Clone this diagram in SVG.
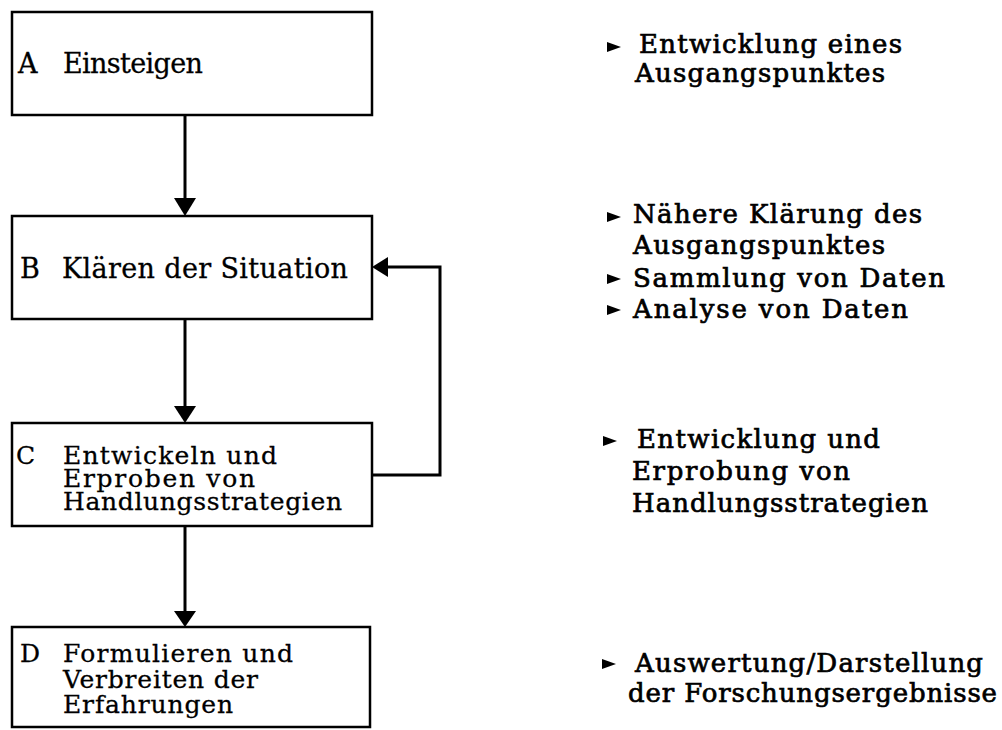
<svg xmlns="http://www.w3.org/2000/svg" xmlns:xlink="http://www.w3.org/1999/xlink" width="1002" height="730" viewBox="0 0 1002 730">
<style>
.box{fill:#fff;stroke:#000;stroke-width:2.5}
.lt{font-family:"DejaVu Serif",serif;font-size:27px;fill:#000;stroke:#000;stroke-width:0.3}
.ls{font-size:25px}
.rt{font-family:"DejaVu Serif",serif;font-size:26px;fill:#000;stroke:#000;stroke-width:0.7}
.ln{fill:none;stroke:#000;stroke-width:3}
</style>
<defs>
<path id="bul" d="M0,-5 L14,0 L0,5 Z" fill="#000"/>
</defs>
<rect width="1002" height="730" fill="#fff"/>
<g id="connectors">
<line class="ln" x1="185" y1="115" x2="185" y2="200"/>
<path d="M174,198 L196,198 L185,216 Z" fill="#000"/>
<line class="ln" x1="185" y1="319" x2="185" y2="408"/>
<path d="M174,406 L196,406 L185,423 Z" fill="#000"/>
<line class="ln" x1="185" y1="526" x2="185" y2="612"/>
<path d="M174,611 L196,611 L185,627 Z" fill="#000"/>
<polyline class="ln" points="372,475 440,475 440,267 386,267"/>
<path d="M388,257 L388,277 L372,267 Z" fill="#000"/>
</g>
<g id="nodeA">
<rect class="box" x="12" y="12" width="360" height="103"/>
<text class="lt" x="18" y="73">A</text>
<text class="lt" x="63" y="73" textLength="140" lengthAdjust="spacing">Einsteigen</text>
</g>
<g id="nodeB">
<rect class="box" x="12" y="216" width="360" height="103"/>
<text class="lt" x="20" y="278">B</text>
<text class="lt" x="62" y="278" textLength="286" lengthAdjust="spacing">Klären der Situation</text>
</g>
<g id="nodeC">
<rect class="box" x="12" y="423" width="360" height="103"/>
<text class="lt ls" x="16" y="464">C</text>
<text class="lt ls" x="63" y="464" textLength="214" lengthAdjust="spacing">Entwickeln und</text>
<text class="lt ls" x="63" y="487" textLength="192" lengthAdjust="spacing">Erproben von</text>
<text class="lt ls" x="63" y="510" textLength="279" lengthAdjust="spacing">Handlungsstrategien</text>
</g>
<g id="nodeD">
<rect class="box" x="12" y="627" width="358" height="100"/>
<text class="lt ls" x="20" y="662">D</text>
<text class="lt ls" x="63" y="662" textLength="230" lengthAdjust="spacing">Formulieren und</text>
<text class="lt ls" x="63" y="688" textLength="195" lengthAdjust="spacing">Verbreiten der</text>
<text class="lt ls" x="63" y="713" textLength="170" lengthAdjust="spacing">Erfahrungen</text>
</g>
<g id="notesA">
<use xlink:href="#bul" x="607" y="47"/>
<text class="rt" x="639" y="53" textLength="263" lengthAdjust="spacing">Entwicklung eines</text>
<text class="rt" x="635" y="82" textLength="250" lengthAdjust="spacing">Ausgangspunktes</text>
</g>
<g id="notesB">
<use xlink:href="#bul" x="607" y="217"/>
<text class="rt" x="633" y="223" textLength="289" lengthAdjust="spacing">Nähere Klärung des</text>
<text class="rt" x="633" y="254" textLength="252" lengthAdjust="spacing">Ausgangspunktes</text>
<use xlink:href="#bul" x="607" y="279"/>
<text class="rt" x="633" y="287" textLength="312" lengthAdjust="spacing">Sammlung von Daten</text>
<use xlink:href="#bul" x="607" y="310"/>
<text class="rt" x="633" y="318" textLength="275" lengthAdjust="spacing">Analyse von Daten</text>
</g>
<g id="notesC">
<use xlink:href="#bul" x="603" y="441"/>
<text class="rt" x="637" y="448" textLength="243" lengthAdjust="spacing">Entwicklung und</text>
<text class="rt" x="632" y="480" textLength="218" lengthAdjust="spacing">Erprobung von</text>
<text class="rt" x="632" y="512" textLength="296" lengthAdjust="spacing">Handlungsstrategien</text>
</g>
<g id="notesD">
<use xlink:href="#bul" x="602" y="664"/>
<text class="rt" x="635" y="672" textLength="348" lengthAdjust="spacing">Auswertung/Darstellung</text>
<text class="rt" x="628" y="702" textLength="369" lengthAdjust="spacing">der Forschungsergebnisse</text>
</g>
</svg>
